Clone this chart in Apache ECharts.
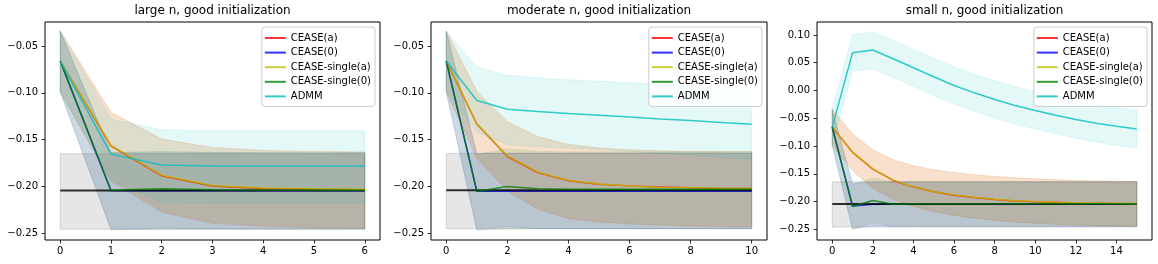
<!DOCTYPE html>
<html><head><meta charset="utf-8">
<script src="https://cdn.jsdelivr.net/npm/echarts@6/dist/echarts.min.js"></script>
<style>html,body{margin:0;padding:0;background:#fff}#c{width:1158px;height:264px}</style>
</head><body><div id="c"></div>
<script>
// ---------- data ----------
const methods = ['CEASE(a)', 'CEASE(0)', 'CEASE-single(a)', 'CEASE-single(0)', 'ADMM'];
const titles = ['large n, good initialization', 'moderate n, good initialization', 'small n, good initialization'];

// Panel 1: large n
const p1X = [0, 1, 2, 3, 4, 5, 6];
const p1CeaseA   = [-0.066, -0.1565, -0.1885, -0.1995, -0.2020, -0.2030, -0.2035];
const p1Cease0   = [-0.066, -0.2045, -0.2045, -0.2045, -0.2045, -0.2045, -0.2045];
const p1SingleA  = [-0.066, -0.1560, -0.1880, -0.1990, -0.2015, -0.2025, -0.2030];
const p1Single0  = [-0.066, -0.2040, -0.2025, -0.2035, -0.2038, -0.2040, -0.2040];
const p1Admm     = [-0.066, -0.1654, -0.1771, -0.1782, -0.1782, -0.1782, -0.1782];
const p1CeaseAHi = [-0.034, -0.1205, -0.1493, -0.1582, -0.1615, -0.1625, -0.1632];
const p1CeaseALo = [-0.099, -0.1945, -0.2275, -0.2393, -0.2425, -0.2440, -0.2445];
const p1Cease0Hi = [-0.034, -0.1640, -0.1640, -0.1640, -0.1640, -0.1640, -0.1640];
const p1Cease0Lo = [-0.099, -0.2455, -0.2445, -0.2450, -0.2450, -0.2450, -0.2450];
const p1SingleAHi = [-0.034, -0.1215, -0.1495, -0.1585, -0.1615, -0.1625, -0.1630];
const p1SingleALo = [-0.099, -0.1925, -0.2265, -0.2385, -0.2420, -0.2435, -0.2440];
const p1Single0Hi = [-0.034, -0.1635, -0.1625, -0.1635, -0.1638, -0.1640, -0.1640];
const p1Single0Lo = [-0.099, -0.2465, -0.2455, -0.2455, -0.2455, -0.2455, -0.2455];
const p1AdmmHi   = [-0.034, -0.1280, -0.1393, -0.1404, -0.1404, -0.1404, -0.1404];
const p1AdmmLo   = [-0.099, -0.1935, -0.2172, -0.2178, -0.2178, -0.2178, -0.2178];
const p1Truth = -0.2043;
const p1Box = [-0.2457, -0.1650];

// Panel 2: moderate n
const p2X = [0, 1, 2, 3, 4, 5, 6, 7, 8, 9, 10];
const p2CeaseA   = [-0.066, -0.1332, -0.1679, -0.1850, -0.1939, -0.1975, -0.1993, -0.2004, -0.2014, -0.2020, -0.2022];
const p2Cease0   = [-0.066, -0.2050, -0.2050, -0.2050, -0.2050, -0.2050, -0.2050, -0.2050, -0.2050, -0.2050, -0.2050];
const p2SingleA  = [-0.066, -0.1330, -0.1675, -0.1847, -0.1935, -0.1972, -0.1995, -0.2008, -0.2012, -0.2018, -0.2020];
const p2Single0  = [-0.066, -0.2052, -0.2000, -0.2025, -0.2030, -0.2030, -0.2030, -0.2030, -0.2030, -0.2030, -0.2030];
const p2Admm     = [-0.066, -0.1082, -0.1175, -0.1200, -0.1221, -0.1239, -0.1257, -0.1278, -0.1296, -0.1315, -0.1336];
const p2CeaseAHi = [-0.034, -0.0982, -0.1310, -0.1468, -0.1550, -0.1589, -0.1607, -0.1618, -0.1625, -0.1625, -0.1625];
const p2CeaseALo = [-0.099, -0.1700, -0.2047, -0.2243, -0.2343, -0.2379, -0.2400, -0.2411, -0.2421, -0.2428, -0.2432];
const p2Cease0Hi = [-0.034, -0.1650, -0.1645, -0.1645, -0.1645, -0.1645, -0.1645, -0.1645, -0.1645, -0.1645, -0.1645];
const p2Cease0Lo = [-0.099, -0.2460, -0.2430, -0.2450, -0.2450, -0.2450, -0.2450, -0.2450, -0.2450, -0.2450, -0.2450];
const p2SingleAHi = [-0.034, -0.0990, -0.1305, -0.1465, -0.1548, -0.1590, -0.1610, -0.1620, -0.1625, -0.1627, -0.1628];
const p2SingleALo = [-0.099, -0.1690, -0.2040, -0.2235, -0.2335, -0.2375, -0.2398, -0.2410, -0.2420, -0.2426, -0.2430];
const p2Single0Hi = [-0.034, -0.1655, -0.1600, -0.1625, -0.1630, -0.1630, -0.1630, -0.1630, -0.1630, -0.1630, -0.1630];
const p2Single0Lo = [-0.099, -0.2470, -0.2455, -0.2450, -0.2450, -0.2450, -0.2450, -0.2450, -0.2450, -0.2450, -0.2450];
const p2AdmmHi   = [-0.034, -0.0725, -0.0811, -0.0839, -0.0861, -0.0875, -0.0890, -0.0907, -0.0925, -0.0946, -0.0972];
const p2AdmmLo   = [-0.099, -0.1420, -0.1554, -0.1575, -0.1590, -0.1605, -0.1625, -0.1645, -0.1665, -0.1690, -0.1712];
const p2Truth = -0.2040;
const p2Box = [-0.2450, -0.1645];

// Panel 3: small n
const p3X = [0, 1, 2, 3, 4, 5, 6, 7, 8, 9, 10, 11, 12, 13, 14, 15];
const p3CeaseA   = [-0.066, -0.1114, -0.1416, -0.1620, -0.1740, -0.1825, -0.1885, -0.1928, -0.1965, -0.1990, -0.2005, -0.2015, -0.2025, -0.2030, -0.2035, -0.2040];
const p3Cease0   = [-0.066, -0.2080, -0.2048, -0.2045, -0.2045, -0.2045, -0.2045, -0.2045, -0.2045, -0.2045, -0.2045, -0.2045, -0.2045, -0.2045, -0.2045, -0.2045];
const p3SingleA  = [-0.066, -0.1110, -0.1412, -0.1615, -0.1738, -0.1822, -0.1880, -0.1925, -0.1960, -0.1985, -0.2000, -0.2012, -0.2020, -0.2028, -0.2033, -0.2038];
const p3Single0  = [-0.066, -0.2090, -0.1982, -0.2050, -0.2040, -0.2040, -0.2042, -0.2042, -0.2042, -0.2042, -0.2042, -0.2042, -0.2042, -0.2042, -0.2042, -0.2042];
const p3Admm     = [-0.066, 0.0681, 0.0729, 0.0572, 0.0410, 0.0247, 0.0090, -0.0042, -0.0163, -0.0271, -0.0361, -0.0446, -0.0524, -0.0590, -0.0645, -0.0695];
const p3CeaseAHi = [-0.034, -0.0783, -0.1066, -0.1247, -0.1355, -0.1427, -0.1476, -0.1518, -0.1548, -0.1572, -0.1590, -0.1608, -0.1620, -0.1628, -0.1634, -0.1638];
const p3CeaseALo = [-0.099, -0.1445, -0.1765, -0.1960, -0.2090, -0.2180, -0.2250, -0.2300, -0.2340, -0.2370, -0.2395, -0.2410, -0.2425, -0.2435, -0.2440, -0.2445];
const p3Cease0Hi = [-0.034, -0.1680, -0.1645, -0.1645, -0.1645, -0.1645, -0.1645, -0.1645, -0.1645, -0.1645, -0.1645, -0.1645, -0.1645, -0.1645, -0.1645, -0.1645];
const p3Cease0Lo = [-0.099, -0.2490, -0.2440, -0.2450, -0.2450, -0.2450, -0.2450, -0.2450, -0.2450, -0.2450, -0.2450, -0.2450, -0.2450, -0.2450, -0.2450, -0.2450];
const p3SingleAHi = [-0.034, -0.0790, -0.1070, -0.1250, -0.1358, -0.1430, -0.1478, -0.1520, -0.1550, -0.1574, -0.1592, -0.1610, -0.1622, -0.1630, -0.1635, -0.1640];
const p3SingleALo = [-0.099, -0.1435, -0.1760, -0.1955, -0.2085, -0.2175, -0.2245, -0.2295, -0.2335, -0.2366, -0.2390, -0.2406, -0.2420, -0.2430, -0.2436, -0.2442];
const p3Single0Hi = [-0.034, -0.1690, -0.1580, -0.1645, -0.1635, -0.1640, -0.1642, -0.1642, -0.1642, -0.1642, -0.1642, -0.1642, -0.1642, -0.1642, -0.1642, -0.1642];
const p3Single0Lo = [-0.099, -0.2510, -0.2385, -0.2450, -0.2440, -0.2445, -0.2445, -0.2445, -0.2445, -0.2445, -0.2445, -0.2445, -0.2445, -0.2445, -0.2445, -0.2445];
const p3AdmmHi   = [-0.034, 0.1012, 0.1060, 0.0905, 0.0745, 0.0585, 0.0425, 0.0295, 0.0175, 0.0068, -0.0022, -0.0106, -0.0184, -0.0255, -0.0310, -0.0355];
const p3AdmmLo   = [-0.099, 0.0345, 0.0390, 0.0235, 0.0075, -0.0090, -0.0245, -0.0375, -0.0495, -0.0605, -0.0695, -0.0780, -0.0860, -0.0930, -0.0990, -0.1040];
const p3Truth = -0.2043;
const p3Box = [-0.2460, -0.1645];

// Tick labels / axis ranges
const p1XTicks = [0, 1, 2, 3, 4, 5, 6];
const p2XTicks = [0, 2, 4, 6, 8, 10];
const p3XTicks = [0, 2, 4, 6, 8, 10, 12, 14];
const p12YTicks = [-0.25, -0.20, -0.15, -0.10, -0.05];
const p3YTicks = [-0.25, -0.20, -0.15, -0.10, -0.05, 0.00, 0.05, 0.10];
const xRanges = [[-0.3, 6.3], [-0.5, 10.5], [-0.75, 15.75]];
const yRanges = [[-0.2571, -0.0243], [-0.2571, -0.0243], [-0.2693, 0.1234]];

// ---------- styles / layout ----------
const lineColors = ['rgba(255,0,0,0.8)', 'rgba(0,0,255,0.8)', 'rgba(191,191,0,0.8)', 'rgba(0,128,0,0.8)', 'rgba(0,191,191,0.8)'];
const bandColors = ['rgba(255,0,0,0.1)', 'rgba(0,0,255,0.1)', 'rgba(191,191,0,0.1)', 'rgba(0,128,0,0.1)', 'rgba(0,191,191,0.1)'];
const grids = [
  { left: 45, top: 22, width: 335, height: 218 },
  { left: 431, top: 22, width: 336, height: 218 },
  { left: 817, top: 22, width: 335, height: 218 }
];
const FONT = 'DejaVu Sans';

const panels = [
  { x: p1X, lines: [p1CeaseA, p1Cease0, p1SingleA, p1Single0, p1Admm],
    hi: [p1CeaseAHi, p1Cease0Hi, p1SingleAHi, p1Single0Hi, p1AdmmHi],
    lo: [p1CeaseALo, p1Cease0Lo, p1SingleALo, p1Single0Lo, p1AdmmLo],
    truth: p1Truth, box: p1Box, xTicks: p1XTicks, yTicks: p12YTicks },
  { x: p2X, lines: [p2CeaseA, p2Cease0, p2SingleA, p2Single0, p2Admm],
    hi: [p2CeaseAHi, p2Cease0Hi, p2SingleAHi, p2Single0Hi, p2AdmmHi],
    lo: [p2CeaseALo, p2Cease0Lo, p2SingleALo, p2Single0Lo, p2AdmmLo],
    truth: p2Truth, box: p2Box, xTicks: p2XTicks, yTicks: p12YTicks },
  { x: p3X, lines: [p3CeaseA, p3Cease0, p3SingleA, p3Single0, p3Admm],
    hi: [p3CeaseAHi, p3Cease0Hi, p3SingleAHi, p3Single0Hi, p3AdmmHi],
    lo: [p3CeaseALo, p3Cease0Lo, p3SingleALo, p3Single0Lo, p3AdmmLo],
    truth: p3Truth, box: p3Box, xTicks: p3XTicks, yTicks: p3YTicks }
];

const fmtY = v => v.toFixed(2).replace('-', '\u2212');

const option = {
  animation: false,
  backgroundColor: '#fff',
  textStyle: { fontFamily: FONT },
  title: grids.map((g, i) => ({
    text: titles[i], left: g.left + g.width / 2, top: 5, textAlign: 'center', padding: 0,
    textStyle: { fontFamily: FONT, fontSize: 12, fontWeight: 'normal', color: '#000' }
  })),
  grid: grids.map(g => ({ left: g.left, top: g.top, width: g.width, height: g.height,
    show: true, borderColor: '#000', borderWidth: 1, backgroundColor: 'transparent', containLabel: false })),
  xAxis: panels.map((p, i) => ({
    type: 'value', gridIndex: i, min: xRanges[i][0], max: xRanges[i][1],
    splitLine: { show: false },
    axisLine: { show: false, onZero: false },
    axisTick: { show: true, length: 3.5, customValues: p.xTicks, lineStyle: { color: '#000', width: 0.8 } },
    axisLabel: { customValues: p.xTicks, margin: 6, fontFamily: FONT, fontSize: 10, color: '#000', formatter: v => String(v) }
  })),
  yAxis: panels.map((p, i) => ({
    type: 'value', gridIndex: i, min: yRanges[i][0], max: yRanges[i][1],
    splitLine: { show: false },
    axisLine: { show: false, onZero: false },
    axisTick: { show: true, length: 3.5, customValues: p.yTicks, lineStyle: { color: '#000', width: 0.8 } },
    axisLabel: { customValues: p.yTicks, margin: 7, fontFamily: FONT, fontSize: 10, color: '#000', formatter: fmtY }
  })),
  legend: grids.map(g => ({
    data: methods, orient: 'vertical', right: 1158 - (g.left + g.width - 5), top: 27,
    icon: 'rect', itemWidth: 21, itemHeight: 2, itemGap: 0.6,
    padding: [4, 4, 3, 3],
    backgroundColor: 'rgba(255,255,255,0.8)', borderColor: '#cccccc', borderWidth: 1, borderRadius: 3,
    textStyle: { fontFamily: FONT, fontSize: 10, color: '#000', lineHeight: 14 },
    selectedMode: false
  })),
  series: []
};

panels.forEach((p, pi) => {
  // confidence bands: one polygon per band, positioned via the axes' scales (api.coord)
  methods.forEach((m, k) => {
    const lo = p.lo[k], hi = p.hi[k];
    option.series.push({
      type: 'custom', name: m + ' band', xAxisIndex: pi, yAxisIndex: pi, silent: true, z: 1, clip: true,
      data: p.x.map((xv, i) => [xv, lo[i], hi[i]]),
      encode: { x: 0, y: [1, 2] },
      renderItem: (params, api) => {
        if (params.dataIndex !== 0) return null;
        const pts = [];
        for (let i = 0; i < p.x.length; i++) pts.push(api.coord([p.x[i], hi[i]]));
        for (let i = p.x.length - 1; i >= 0; i--) pts.push(api.coord([p.x[i], lo[i]]));
        return { type: 'polygon', shape: { points: pts },
          style: { fill: bandColors[k], stroke: bandColors[k], lineWidth: 1 } };
      }
    });
  });
  const xEnd = p.x[p.x.length - 1];
  // gray truth box
  option.series.push({
    type: 'line', name: 'truth box', xAxisIndex: pi, yAxisIndex: pi, silent: true, z: 1,
    data: [[0, p.truth], [xEnd, p.truth]], showSymbol: false, symbol: 'none',
    lineStyle: { opacity: 0, width: 0 },
    markArea: { silent: true,
      itemStyle: { color: 'rgba(128,128,128,0.2)', borderColor: 'rgba(128,128,128,0.25)', borderWidth: 1 },
      label: { show: false },
      data: [[{ coord: [0, p.box[1]] }, { coord: [xEnd, p.box[0]] }]] }
  });
  const order = [0, 1, 'truth', 2, 3, 4];
  order.forEach(k => {
    if (k === 'truth') {
      option.series.push({
        type: 'line', name: 'truth', xAxisIndex: pi, yAxisIndex: pi, silent: true, z: 3,
        data: [[0, p.truth], [xEnd, p.truth]], showSymbol: false, symbol: 'none',
        lineStyle: { color: 'rgba(0,0,0,0.8)', width: 2 }
      });
      return;
    }
    option.series.push({
      type: 'line', name: methods[k], xAxisIndex: pi, yAxisIndex: pi, z: 3,
      data: p.x.map((xv, i) => [xv, p.lines[k][i]]), showSymbol: false, symbol: 'none',
      lineStyle: { color: lineColors[k], width: 1.5 }, itemStyle: { color: lineColors[k] }
    });
  });
});

const chart = echarts.init(document.getElementById('c'), null, { renderer: 'canvas', devicePixelRatio: 1 });
chart.setOption(option);
</script>
</body></html>
